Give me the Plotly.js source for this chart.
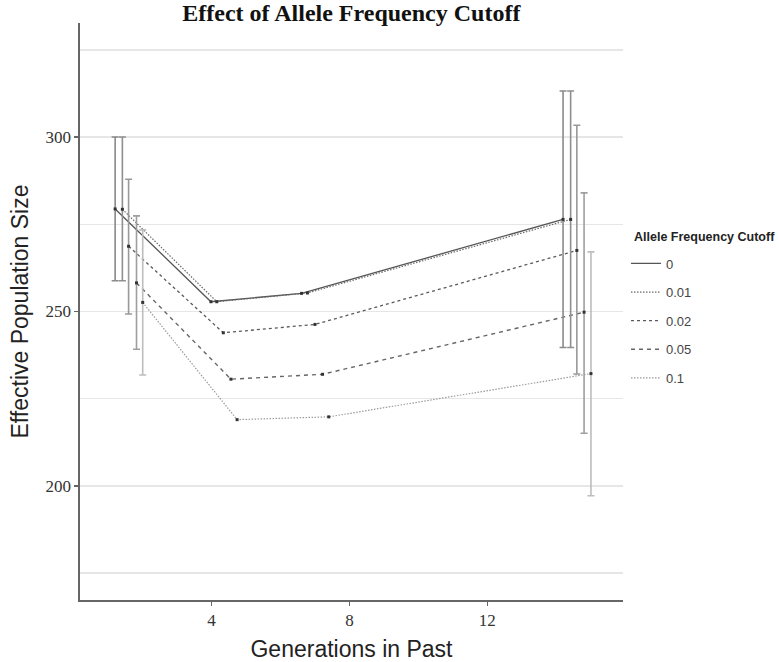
<!DOCTYPE html>
<html>
<head>
<meta charset="utf-8">
<script src="https://cdn.plot.ly/plotly-3.0.1.min.js"></script>
<style>html,body{margin:0;padding:0;background:#fff;}#chart{width:779px;height:662px;}</style>
</head>
<body>
<div id="chart"></div>
<script>
// Allele frequency cutoffs (legend entries)
const cutoffs = ['0', '0.01', '0.02', '0.05', '0.1'];

// Generations in past (dodged positions, per cutoff)
const gen_0    = [1.20, 3.98, 6.61, 14.20];
const gen_001  = [1.41, 4.15, 6.78, 14.42];
const gen_002  = [1.59, 4.34, 7.00, 14.60];
const gen_005  = [1.82, 4.56, 7.22, 14.81];
const gen_01   = [2.00, 4.74, 7.40, 15.01];

// Effective population size estimates
const ne_0   = [279.4, 252.8, 255.2, 276.4];
const ne_001 = [279.3, 252.8, 255.3, 276.4];
const ne_002 = [268.7, 243.9, 246.3, 267.5];
const ne_005 = [258.2, 230.6, 232.0, 249.8];
const ne_01  = [252.6, 219.0, 219.8, 232.2];

// Confidence interval upper / lower bounds (only first and last generation)
const up_0   = [300.0, null, null, 313.2];
const lo_0   = [258.8, null, null, 239.7];
const up_001 = [300.0, null, null, 313.2];
const lo_001 = [258.8, null, null, 239.7];
const up_002 = [287.9, null, null, 303.4];
const lo_002 = [249.3, null, null, 232.1];
const up_005 = [277.4, null, null, 284.0];
const lo_005 = [239.2, null, null, 215.1];
const up_01  = [273.4, null, null, 267.1];
const lo_01  = [231.8, null, null, 197.2];

// Tick labels
const xTicks = [4, 8, 12];
const yTicks = [200, 250, 300];
const yMinorTicks = [175, 225, 275, 325];

const gens = [gen_0, gen_001, gen_002, gen_005, gen_01];
const nes = [ne_0, ne_001, ne_002, ne_005, ne_01];
const ups = [up_0, up_001, up_002, up_005, up_01];
const los = [lo_0, lo_001, lo_002, lo_005, lo_01];

const lineStyles = [
  {color: '#555555', dash: 'solid', width: 1.3},
  {color: '#6a6a6a', dash: '1.5px,1.5px', width: 1.2},
  {color: '#5a5a5a', dash: '3px,3px', width: 1.3},
  {color: '#666666', dash: '4px,4px', width: 1.4},
  {color: '#9a9a9a', dash: '1.5px,1.5px', width: 1.2}
];
const errColors = ['#8a8a8a', '#8f8f8f', '#999999', '#9f9f9f', '#bdbdbd'];

const traces = [];
cutoffs.forEach((c, i) => {
  traces.push({
    type: 'scatter', mode: 'lines', name: c, legendgroup: 'g' + i,
    x: gens[i], y: nes[i], line: lineStyles[i], hoverinfo: 'x+y+name'
  });
});
cutoffs.forEach((c, i) => {
  const y = nes[i];
  const plus = ups[i].map((u, k) => u === null ? NaN : u - y[k]);
  const minus = los[i].map((l, k) => l === null ? NaN : y[k] - l);
  traces.push({
    type: 'scatter', mode: 'markers', name: c, legendgroup: 'g' + i, showlegend: false,
    x: gens[i], y: y,
    marker: {size: 3, color: '#333333', symbol: 'square'},
    error_y: {
      type: 'data', symmetric: false,
      array: plus, arrayminus: minus,
      color: errColors[i], thickness: 1.6, width: 3.5
    },
    hoverinfo: 'x+y+name'
  });
});

const layout = {
  width: 779, height: 662,
  paper_bgcolor: '#ffffff', plot_bgcolor: '#ffffff',
  margin: {l: 80, r: 156, t: 23, b: 62, autoexpand: false},
  title: {
    text: 'Effect of Allele Frequency Cutoff',
    font: {family: 'Liberation Serif, Times New Roman, serif', size: 24, color: '#111111', weight: 'bold'},
    x: 0.451, xanchor: 'center', xref: 'container',
    y: 0.981, yanchor: 'middle', yref: 'container'
  },
  xaxis: {
    range: [0.18, 15.94],
    tickmode: 'array', tickvals: xTicks, ticktext: xTicks.map(String),
    showgrid: false, zeroline: false,
    showline: true, linecolor: '#666666', linewidth: 1.6,
    ticks: 'outside', ticklen: 4, tickwidth: 1.5, tickcolor: '#666666',
    tickfont: {family: 'Liberation Serif, Times New Roman, serif', size: 17, color: '#333333'},
    title: {text: 'Generations in Past', font: {family: 'Liberation Sans, Arial, sans-serif', size: 23, color: '#222222'}, standoff: 12}
  },
  yaxis: {
    range: [167.3, 332.7],
    tickmode: 'array', tickvals: yTicks, ticktext: yTicks.map(String),
    showgrid: true, gridcolor: '#e6e6e6', gridwidth: 1.5,
    minor: {tickmode: 'array', tickvals: yMinorTicks, showgrid: true, gridcolor: '#e6e6e6', gridwidth: 1.5, ticks: ''},
    zeroline: false,
    showline: true, linecolor: '#666666', linewidth: 1.6,
    ticks: 'outside', ticklen: 4, tickwidth: 1.5, tickcolor: '#666666',
    tickfont: {family: 'Liberation Serif, Times New Roman, serif', size: 17, color: '#333333'},
    title: {text: 'Effective Population Size', font: {family: 'Liberation Sans, Arial, sans-serif', size: 23, color: '#222222'}, standoff: 10}
  },
  annotations: [{
    text: '<b>Allele Frequency Cutoff</b>',
    xref: 'paper', yref: 'paper',
    x: (777 - 80) / 543, xanchor: 'right',
    y: (600 - 237) / 577, yanchor: 'middle',
    showarrow: false,
    font: {family: 'Liberation Sans, Arial, sans-serif', size: 12.5, color: '#222222'}
  }],
  showlegend: true,
  legend: {
    x: 1.0055, xanchor: 'left', y: (600 - 248.5) / 577, yanchor: 'top',
    bgcolor: 'rgba(0,0,0,0)',
    font: {family: 'Liberation Sans, Arial, sans-serif', size: 13, color: '#444444'},
    tracegroupgap: 8.7,
    itemwidth: 30
  }
};

Plotly.newPlot('chart', traces, layout, {displayModeBar: false, staticPlot: true});
</script>
</body>
</html>
